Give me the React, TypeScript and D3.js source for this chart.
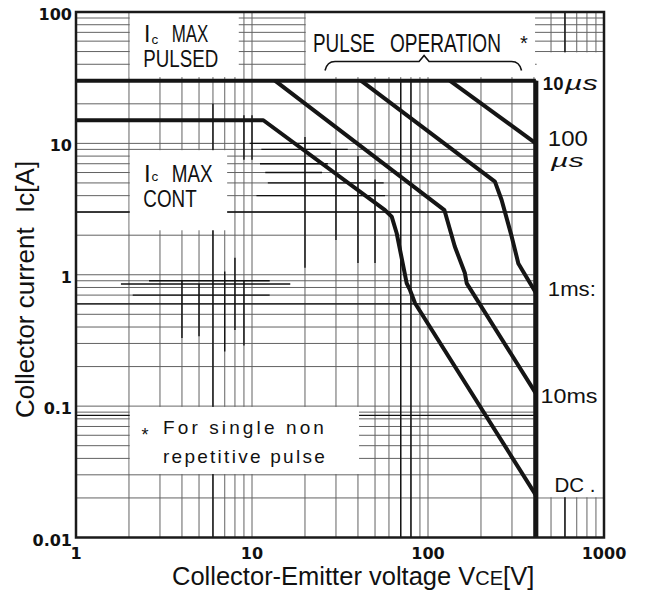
import React, { useEffect, useRef } from "react";
import * as d3 from "d3";

const W = 648;
const H = 597;

const xTicks = [1, 10, 100, 1000];
const xTickLabels = ["1", "10", "100", "1000"];
const yTicks = [0.01, 0.1, 1, 10, 100];
const yTickLabels = ["0.01", "0.1", "1", "10", "100"];

// SOA boundaries, [VCE (V), IC (A)]
const vceMax = 410;
const icPulsed: [number, number][] = [[1, 30], [vceMax, 30]];
const dcCurve: [number, number][] = [
  [1, 15], [11.6, 15], [57, 3.1], [62.2, 2.77], [66.4, 2.07], [75.7, 0.86],
  [79, 0.766], [84.4, 0.607], [vceMax, 0.021],
];
const ms10Curve: [number, number][] = [
  [13.5, 30], [124, 3.1], [135, 2.08], [142, 1.64], [162, 1.03], [166, 0.86], [vceMax, 0.125],
];
const ms1Curve: [number, number][] = [
  [41.6, 30], [240, 5.11], [262, 3.71], [299, 1.95], [326, 1.22], [356, 1.0], [vceMax, 0.73],
];
const us100Curve: [number, number][] = [[133, 30], [vceMax, 10]];
const vceLine: [number, number][] = [[vceMax, 30], [vceMax, 0.01]];

// darker (re-inked) grid pieces of the scanned sheet: [value, from, to]
const darkH: [number, number, number][] = [
  [3, 1, vceMax], [0.6, 1, vceMax], [0.085, 1, vceMax],
  [10, 9.7, 28], [9, 11.3, 35], [7, 11.1, 27], [6, 11.9, 25], [5, 12.3, 56], [4, 10.6, 57],
  [0.9, 2.6, 12.6], [0.85, 1.8, 16.5], [0.7, 2.1, 12.6],
];
const darkV: [number, number, number][] = [
  [6, 0.01, 20], [70, 0.01, 30], [80, 0.01, 30], [600, 0.01, 100],
  [20, 1.13, 11.2], [30, 1.84, 9], [40, 1.23, 8], [50, 1.23, 5.3],
  [9, 7.5, 16.4], [10, 7.5, 16.4],
  [4, 0.33, 0.9], [5, 0.34, 0.85], [7, 0.26, 1.06], [8, 0.38, 1.35], [9, 0.29, 0.9],
];

// white label panels: [v0, v1, i0, i1]
const panels: [number, number, number, number][] = [
  [2, 8.5, 31.5, 100],
  [20, vceMax, 31.5, 100],
  [2, 7.3, 2.15, 9],
  [2, 41, 0.03, 0.1],
  [vceMax, 1000, 0.02, 50],
];

const gridX = d3.range(0, 3).flatMap((k) => d3.range(1, 10).map((m) => m * 10 ** k)).concat([1000]);
const gridY = d3.range(-2, 2).flatMap((k) => d3.range(1, 10).map((m) => +(m * 10 ** k).toPrecision(3))).concat([100]);

const SANS = "'Liberation Sans', Arial, sans-serif";

export default function App() {
  const svgRef = useRef<SVGSVGElement>(null);

  useEffect(() => {
    if (!svgRef.current) return;
    const svg = d3.select(svgRef.current);
    svg.selectAll("*").remove();

    const x = d3.scaleLog().domain([1, 1000]).range([76, 604]);
    const y = d3.scaleLog().domain([0.01, 100]).range([537.5, 12]);

    svg.append("rect").attr("width", W).attr("height", H).attr("fill", "#fff");

    // grid
    const grid = svg.append("g").attr("stroke", "#626262").attr("stroke-width", 1);
    grid.selectAll("line.gx").data(gridX).enter().append("line")
      .attr("x1", (d) => x(d)).attr("x2", (d) => x(d))
      .attr("y1", y(0.01)).attr("y2", y(100));
    grid.selectAll("line.gy").data(gridY).enter().append("line")
      .attr("x1", x(1)).attr("x2", x(1000))
      .attr("y1", (d) => y(d)).attr("y2", (d) => y(d));

    const dark = svg.append("g").attr("stroke", "#111").attr("stroke-width", 1.4);
    dark.selectAll("line.dh").data(darkH).enter().append("line")
      .attr("x1", (d) => x(d[1])).attr("x2", (d) => x(d[2]))
      .attr("y1", (d) => y(d[0])).attr("y2", (d) => y(d[0]));
    dark.selectAll("line.dv").data(darkV).enter().append("line")
      .attr("x1", (d) => x(d[0])).attr("x2", (d) => x(d[0]))
      .attr("y1", (d) => y(d[1])).attr("y2", (d) => y(d[2]));

    // white label panels
    svg.selectAll("rect.panel").data(panels).enter().append("rect")
      .attr("x", (d) => x(d[0]) + 0.8)
      .attr("y", (d) => y(d[3]) + 0.8)
      .attr("width", (d) => x(d[1]) - x(d[0]) - 1.6)
      .attr("height", (d) => y(d[2]) - y(d[3]) - 1.6)
      .attr("fill", "#fff");

    // SOA curves
    const line = d3.line<[number, number]>().x((d) => x(d[0])).y((d) => y(d[1]));
    const curves = svg.append("g").attr("fill", "none").attr("stroke", "#151515")
      .attr("stroke-linejoin", "round");
    [icPulsed, dcCurve, ms10Curve, ms1Curve, us100Curve].forEach((c) => {
      curves.append("path").attr("d", line(c)).attr("stroke-width", 4);
    });
    curves.append("path").attr("d", line(vceLine)).attr("stroke-width", 5);

    // frame
    svg.append("rect")
      .attr("x", x(1)).attr("y", y(100))
      .attr("width", x(1000) - x(1)).attr("height", y(0.01) - y(100))
      .attr("fill", "none").attr("stroke", "#1a1a1a").attr("stroke-width", 2.5);

    // tick labels
    svg.selectAll("text.xt").data(xTicks).enter().append("text")
      .attr("x", (d) => x(d)).attr("y", 559)
      .attr("text-anchor", "middle")
      .style("font-family", "'DejaVu Sans', sans-serif").style("font-weight", "bold").style("font-size", "16px")
      .attr("fill", "#111")
      .text((d, i) => xTickLabels[i]);
    svg.selectAll("text.yt").data(yTicks).enter().append("text")
      .attr("x", 72).attr("y", (d) => y(d) + 8)
      .attr("text-anchor", "end")
      .style("font-family", "'DejaVu Sans', sans-serif").style("font-weight", "bold").style("font-size", "16px")
      .attr("fill", "#111")
      .text((d, i) => yTickLabels[i]);

    // axis titles
    const xt = svg.append("text").attr("x", 172).attr("y", 585)
      .style("font-family", SANS).style("font-size", "25.5px").attr("fill", "#111");
    xt.append("tspan").text("Collector-Emitter voltage V");
    xt.append("tspan").style("font-size", "20px").text("CE");
    xt.append("tspan").text("[V]");

    svg.append("text")
      .attr("transform", "translate(33.5,289.5) rotate(-90)")
      .attr("text-anchor", "middle")
      .style("font-family", SANS).style("font-size", "26px").style("white-space", "pre")
      .attr("fill", "#111")
      .text("Collector current  Ic[A]");

    // in-plot annotations; len squeezes the glyphs, spread widens letter spacing
    const label = (
      tx: number, ty: number, s: string, size: number,
      opts: { len?: number; spread?: number; weight?: string; italic?: boolean } = {}
    ) => {
      const t = svg.append("text")
        .style("font-family", SANS).style("font-size", `${size}px`)
        .style("font-weight", opts.weight || "normal")
        .style("font-style", opts.italic ? "italic" : "normal")
        .attr("fill", "#111").text(s);
      const node = t.node() as SVGTextElement;
      const natural = node.getComputedTextLength();
      if (opts.len && natural > 0) {
        t.attr("transform", `translate(${tx},${ty}) scale(${opts.len / natural},1)`);
      } else {
        t.attr("x", tx).attr("y", ty);
        if (opts.spread && natural > 0) {
          t.style("letter-spacing", `${(opts.spread - natural) / s.length}px`);
        }
      }
      return t;
    };

    label(144, 41.7, "I", 23);
    label(151.5, 44, "c", 13.5);
    label(171.7, 41.7, "MAX", 23, { len: 36.7 });
    label(143.3, 66.7, "PULSED", 23, { len: 75 });

    label(144, 181.7, "I", 24);
    label(151.5, 181, "c", 13.5);
    label(171.7, 181.7, "MAX", 24, { len: 41 });
    label(143.3, 206.7, "CONT", 24, { len: 53.4 });

    label(313, 51.7, "PULSE", 25, { len: 62 });
    label(390, 51.7, "OPERATION", 25, { len: 111 });
    label(520, 50, "*", 20);

    const bx0 = x(26), bx1 = x(340), bxm = x(95), byb = y(42);
    svg.append("path")
      .attr("d", `M${bx0},${byb + 9} Q${bx0 + 2},${byb} ${bx0 + 10},${byb} L${bxm - 5},${byb} L${bxm},${byb - 6} L${bxm + 5},${byb} L${bx1 - 10},${byb} Q${bx1 - 2},${byb} ${bx1},${byb + 9}`)
      .attr("fill", "none").attr("stroke", "#111").attr("stroke-width", 1.6);

    label(141.5, 441, "*", 18);
    label(163, 433.7, "For single non", 19, { spread: 164 });
    label(163, 463, "repetitive pulse", 19, { spread: 164 });

    // pulse width labels right of VCE max
    const xl = x(vceMax);
    label(xl + 7, y(30) + 9.5, "10", 18.5, { weight: "bold" });
    label(xl + 29, y(30) + 9.5, "\u00b5s", 20, { len: 33, italic: true });
    label(xl + 12, y(10) + 2.5, "100", 22, { len: 40 });
    label(xl + 15, y(10) + 24, "\u00b5s", 18.5, { len: 33, italic: true });
    label(xl + 12, y(0.73) + 3, "1ms:", 21, { len: 48 });
    label(xl + 4.7, y(0.125) + 9.5, "10ms", 21, { len: 57 });
    label(xl + 18.7, y(0.021) - 3.5, "DC .", 21, { len: 41 });
  }, []);

  return (
    <svg
      ref={svgRef}
      width={W}
      height={H}
      style={{ position: "absolute", left: 0, top: 0, background: "#fff" }}
    />
  );
}
